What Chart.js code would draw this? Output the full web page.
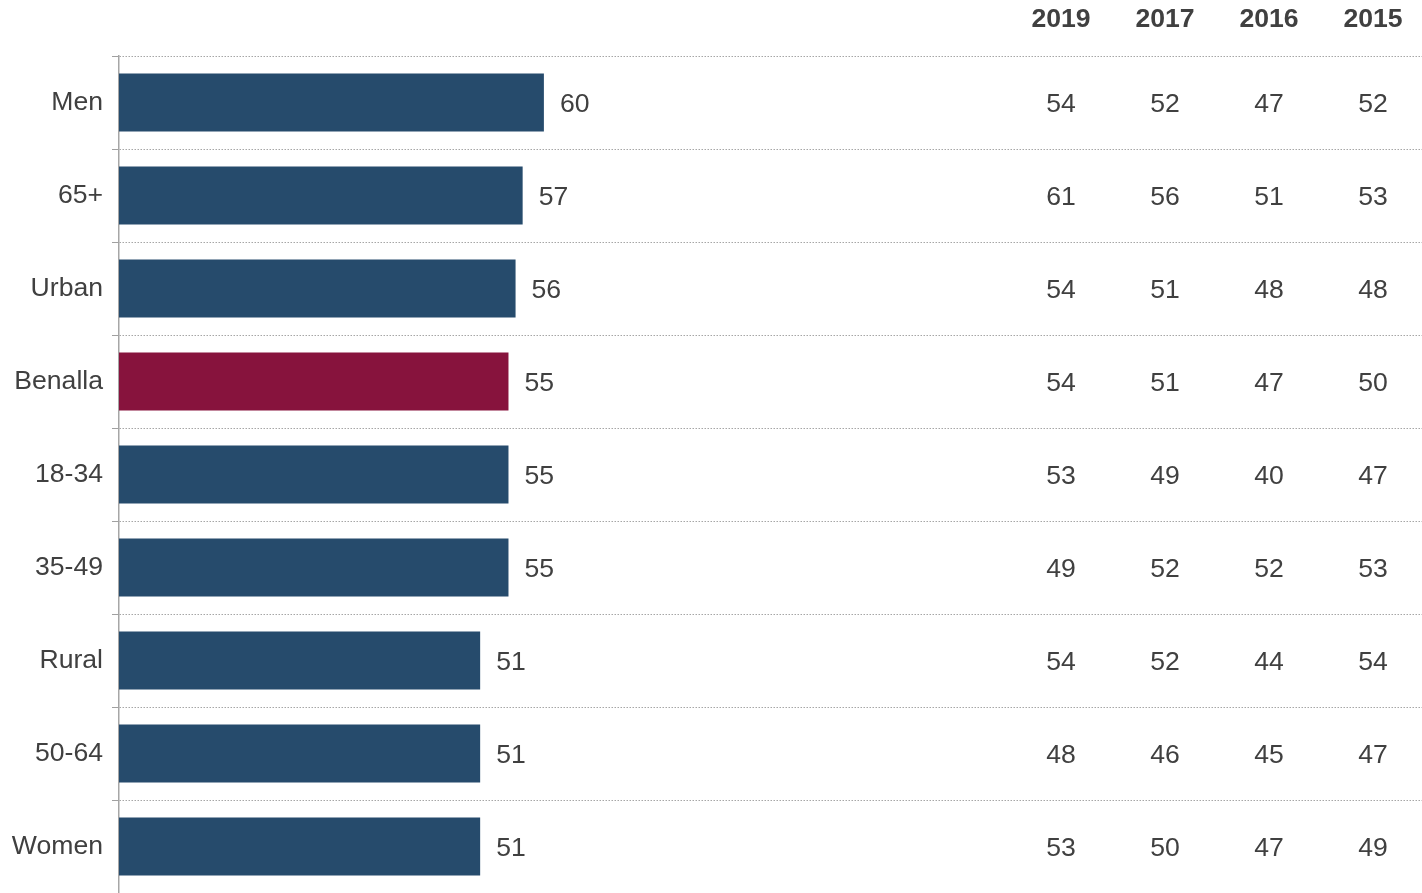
<!DOCTYPE html>
<html>
<head>
<meta charset="utf-8">
<script src="https://cdn.jsdelivr.net/npm/chart.js@4/dist/chart.umd.min.js"></script>
<style>
    body { margin: 0; background: #fff; }
    canvas { display: block; }
</style>
</head>
<body>
<canvas id="chart" width="1422" height="893"></canvas>
<script>
// Gruppen und aktuelle Werte
const gruppen = ["Men", "65+", "Urban", "Benalla", "18-34", "35-49", "Rural", "50-64", "Women"];
const aktuell = [60, 57, 56, 55, 55, 55, 51, 51, 51];

// Vorjahre für die Tabelle rechts
const jahre = ["2019", "2017", "2016", "2015"];
const werte2019 = [54, 61, 54, 54, 53, 49, 54, 48, 53];
const werte2017 = [52, 56, 51, 51, 49, 52, 52, 46, 50];
const werte2016 = [47, 51, 48, 47, 40, 52, 44, 45, 47];
const werte2015 = [52, 53, 48, 50, 47, 53, 54, 47, 49];
const vorjahre = [werte2019, werte2017, werte2016, werte2015];

const blau = "#264b6c";
const weinrot = "#87133d";
const textFarbe = "#404040";
const schrift = "'Liberation Sans', Arial, sans-serif";
const groesse = 26.6;

// Benalla hervorheben
const balkenFarben = gruppen.map(g => g === "Benalla" ? weinrot : blau);

// Zahlen hinter den Balken + Tabelle mit Vorjahren
const tabellePlugin = {
    id: "tabelle",
    afterDatasetsDraw(chart) {
        const ctx = chart.ctx;
        const area = chart.chartArea;
        const yScale = chart.scales.y;
        const meta = chart.getDatasetMeta(0);
        ctx.save();
        ctx.fillStyle = textFarbe;
        ctx.font = groesse + "px " + schrift;
        ctx.textBaseline = "middle";

        // Wert direkt neben dem Balken
        ctx.textAlign = "left";
        meta.data.forEach((bar, i) => {
            ctx.fillText(String(aktuell[i]), bar.x + 16, bar.y + 2);
        });

        // Spalten rechts, relativ zur Breite des Diagramms
        const spalteX = j => area.left + (942 + j * 104) / 1303 * (area.right - area.left);
        ctx.textAlign = "center";
        vorjahre.forEach((reihe, j) => {
            reihe.forEach((w, i) => {
                ctx.fillText(String(w), spalteX(j), yScale.getPixelForValue(i) + 2);
            });
        });

        ctx.font = "bold " + groesse + "px " + schrift;
        jahre.forEach((jahr, j) => {
            ctx.fillText(jahr, spalteX(j), 20);
        });
        ctx.restore();
    }
};

new Chart(document.getElementById("chart"), {
    type: "bar",
    data: {
        labels: gruppen,
        datasets: [{
            data: aktuell,
            backgroundColor: balkenFarben,
            barPercentage: 0.624,
            categoryPercentage: 1
        }]
    },
    options: {
        indexAxis: "y",
        responsive: false,
        animation: false,
        layout: { padding: { top: 56, right: 0, bottom: 0, left: 0 } },
        plugins: {
            legend: { display: false },
            tooltip: { enabled: false }
        },
        scales: {
            x: {
                display: false,
                min: 0,
                max: 184
            },
            y: {
                offset: true,
                // feste Breite, kein Extra-Rand oben/unten für die Beschriftung
                afterFit: (scale) => {
                    scale.width = 119;
                    scale.paddingTop = 0;
                    scale.paddingBottom = 0;
                },
                grid: {
                    offset: true,
                    color: "#a6a6a6",
                    lineWidth: 1,
                    tickLength: 7,
                    tickColor: "#a0a0a0"
                },
                border: {
                    color: "#a6a6a6",
                    width: 1.5,
                    dash: [1.5, 1.5]
                },
                ticks: {
                    color: textFarbe,
                    padding: 9,
                    font: { family: schrift, size: groesse }
                }
            }
        }
    },
    plugins: [tabellePlugin]
});
</script>
</body>
</html>
